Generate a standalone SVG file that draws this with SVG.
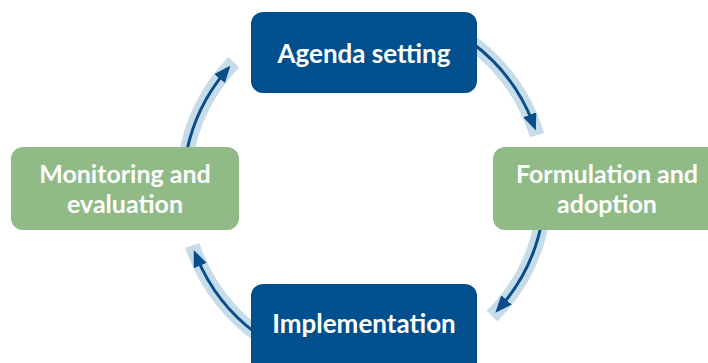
<svg xmlns="http://www.w3.org/2000/svg" width="708" height="363" viewBox="0 0 708 363">
<defs>
<style>
.band{fill:none;stroke:#c6dde9;stroke-width:15}
.line{fill:none;stroke:#0b4d8b;stroke-width:3;marker-end:url(#ah)}
.blue{fill:#024f8d}
.green{fill:#90bb86}
.t{fill:#ffffff;font-family:Lato,"Open Sans",sans-serif;font-weight:bold;font-size:26px;text-anchor:middle}
.t2{font-size:25px}
</style>
<marker id="ah" markerUnits="userSpaceOnUse" viewBox="0 0 17 14" markerWidth="17" markerHeight="14" refX="9" refY="7" orient="auto">
<path d="M0,0 L17,7 L0,14 z" fill="#0b4d8b"/>
</marker>
</defs>
<rect width="708" height="363" fill="#ffffff"/>
<g id="connectors">
<path class="band" d="M470.39,41.57 A181,181 0 0 1 537.09,135.08"/>
<path class="line" d="M472.93,43.45 A181,181 0 0 1 532.98,123.14"/>
<path class="band" d="M542.25,219.43 A181,181 0 0 1 491.99,315.99"/>
<path class="line" d="M542.25,219.43 A181,181 0 0 1 500.60,306.75"/>
<path class="band" d="M268.08,341.50 A181,181 0 0 1 192.35,245.43"/>
<path class="line" d="M260.18,336.27 A181,181 0 0 1 196.78,257.27"/>
<path class="band" d="M185.75,156.57 A181,181 0 0 1 233.80,62.27"/>
<path class="line" d="M186.95,150.37 A181,181 0 0 1 225.35,71.65"/>
</g>
<g id="agenda">
<rect class="blue" x="251" y="12" width="226" height="81" rx="12"/>
<text class="t" x="364" y="63">Agenda setting</text>
</g>
<g id="formulation">
<rect class="green" x="493" y="147" width="228" height="83" rx="12"/>
<text class="t t2" x="607" y="183">Formulation and</text>
<text class="t t2" x="607" y="213">adoption</text>
</g>
<g id="implementation">
<rect class="blue" x="251" y="284" width="226" height="90" rx="12"/>
<text class="t" x="364" y="333">Implementation</text>
</g>
<g id="monitoring">
<rect class="green" x="11" y="147" width="228" height="83" rx="12"/>
<text class="t t2" x="125" y="183">Monitoring and</text>
<text class="t t2" x="125" y="213">evaluation</text>
</g>
</svg>
